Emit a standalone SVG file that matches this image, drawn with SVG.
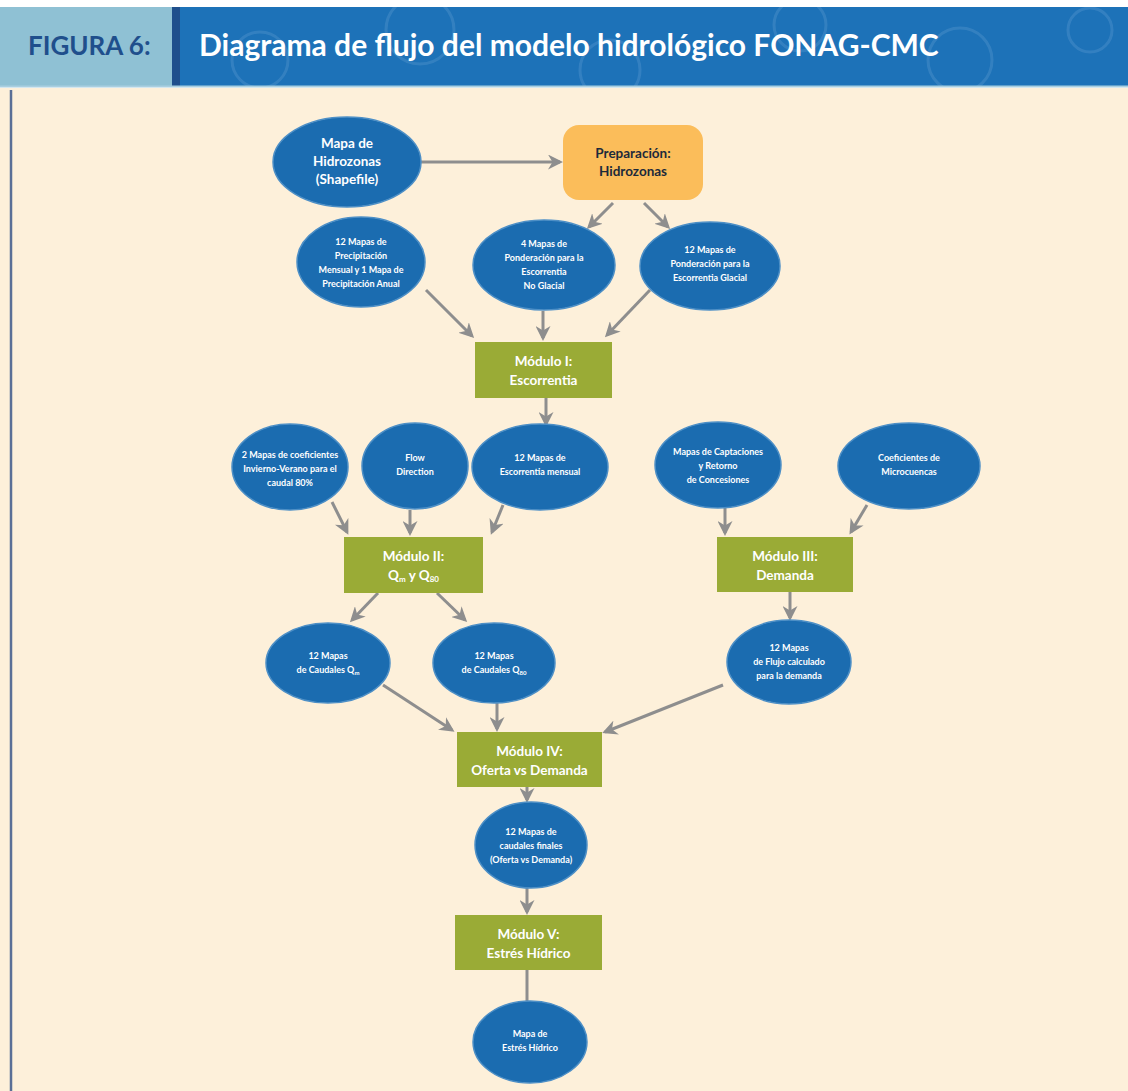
<svg xmlns="http://www.w3.org/2000/svg" width="1128" height="1091" viewBox="0 0 1128 1091">
<style>
.ell{fill:#1b6cb0;stroke:#4d8fc6;stroke-width:1.5}
.mod{fill:#9aab36}
.t{font-family:Lato,"Open Sans","Liberation Sans",sans-serif;font-weight:bold;fill:#ffffff;text-anchor:middle}
.s{font-size:9px}
.m{font-size:13.5px}
.c{stroke:#8e8e8e;stroke-width:3;fill:none;marker-end:url(#ah)}
</style>
<defs>
<marker id="ah" viewBox="0 0 10 10" refX="8" refY="5" markerWidth="5" markerHeight="5" orient="auto" markerUnits="strokeWidth">
<path d="M0,0 L10,5 L0,10 L3,5 z" fill="#8e8e8e"/>
</marker>
<clipPath id="band"><rect x="180" y="7" width="948" height="79"/></clipPath>
</defs>
<rect width="1128" height="1091" fill="#ffffff"/>
<rect x="0" y="88" width="1128" height="1003" fill="#fdf0da"/>
<line x1="11" y1="90" x2="11" y2="1091" stroke="#5a6f96" stroke-width="2.5"/>
<g id="header">
<rect x="0" y="7" width="172" height="79" fill="#8fc1d4"/>
<rect x="172" y="7" width="956" height="79" fill="#1d72b8"/>
<g fill="none" stroke="#4f93cb" stroke-width="3" opacity="0.45" clip-path="url(#band)">
<circle cx="260" cy="60" r="28"/>
<circle cx="420" cy="30" r="34"/>
<circle cx="610" cy="70" r="30"/>
<circle cx="800" cy="25" r="26"/>
<circle cx="960" cy="60" r="32"/>
<circle cx="1090" cy="30" r="22"/>
</g>
<rect x="172" y="7" width="8" height="79" fill="#1f4f8c"/>
<line x1="0" y1="86.5" x2="1128" y2="86.5" stroke="#a9cfe0" stroke-width="2"/>
<text x="28" y="55" font-family="Lato,'Open Sans','Liberation Sans',sans-serif" font-weight="bold" font-size="26" fill="#1f4f8c">FIGURA 6:</text>
<text x="199" y="56" font-family="Lato,'Open Sans','Liberation Sans',sans-serif" font-weight="bold" font-size="30" fill="#ffffff">Diagrama de flujo del modelo hidrológico FONAG-CMC</text>
</g>
<g id="connectors">
<line class="c" x1="421" y1="162" x2="560" y2="162"/>
<line class="c" x1="613" y1="203" x2="589" y2="227"/>
<line class="c" x1="644" y1="203" x2="668" y2="227"/>
<line class="c" x1="426" y1="290" x2="472" y2="336"/>
<line class="c" x1="543" y1="311" x2="543" y2="338"/>
<line class="c" x1="650" y1="290" x2="607" y2="335"/>
<line class="c" x1="546" y1="398" x2="546" y2="424"/>
<line class="c" x1="332" y1="502" x2="347" y2="532"/>
<line class="c" x1="410" y1="510" x2="410" y2="533"/>
<line class="c" x1="503" y1="505" x2="492" y2="532"/>
<line class="c" x1="725" y1="508" x2="725" y2="533"/>
<line class="c" x1="867" y1="505" x2="851" y2="532"/>
<line class="c" x1="378" y1="593" x2="352" y2="620"/>
<line class="c" x1="437" y1="593" x2="465" y2="620"/>
<line class="c" x1="790" y1="592" x2="790" y2="618"/>
<line class="c" x1="383" y1="685" x2="452" y2="730"/>
<line class="c" x1="497" y1="703" x2="497" y2="729"/>
<line class="c" x1="723" y1="685" x2="605" y2="732"/>
<line class="c" x1="527" y1="787" x2="527" y2="800"/>
<line class="c" x1="527" y1="887" x2="527" y2="912"/>
<line x1="527" y1="970" x2="527" y2="1002" stroke="#8e8e8e" stroke-width="3"/>
</g>
<g id="n_hidrozonas">
<ellipse class="ell" cx="347" cy="162" rx="74" ry="45"/>
<text class="t m" x="347" y="148">Mapa de</text>
<text class="t m" x="347" y="166">Hidrozonas</text>
<text class="t m" x="347" y="184">(Shapefile)</text>
</g>
<g id="n_preparacion">
<rect x="563" y="125" width="140" height="75" rx="16" fill="#fbbd5a"/>
<text class="t m" x="633" y="158" style="fill:#1d2a3a">Preparación:</text>
<text class="t m" x="633" y="176" style="fill:#1d2a3a">Hidrozonas</text>
</g>
<g id="n_precip">
<ellipse class="ell" cx="361" cy="262" rx="64" ry="45"/>
<text class="t s" x="361" y="245">12 Mapas de</text>
<text class="t s" x="361" y="259">Precipitación</text>
<text class="t s" x="361" y="273">Mensual y 1 Mapa de</text>
<text class="t s" x="361" y="287">Precipitación Anual</text>
</g>
<g id="n_noglacial">
<ellipse class="ell" cx="544" cy="265" rx="71" ry="45"/>
<text class="t s" x="544" y="247">4 Mapas de</text>
<text class="t s" x="544" y="261">Ponderación para la</text>
<text class="t s" x="544" y="275">Escorrentia</text>
<text class="t s" x="544" y="289">No Glacial</text>
</g>
<g id="n_glacial">
<ellipse class="ell" cx="710" cy="266" rx="70" ry="44"/>
<text class="t s" x="710" y="253">12 Mapas de</text>
<text class="t s" x="710" y="267">Ponderación para la</text>
<text class="t s" x="710" y="281">Escorrentia Glacial</text>
</g>
<g id="n_modulo1">
<rect class="mod" x="475" y="342" width="137" height="56"/>
<text class="t m" x="543.5" y="366">Módulo I:</text>
<text class="t m" x="543.5" y="385">Escorrentia</text>
</g>
<g id="n_coef">
<ellipse class="ell" cx="290" cy="467" rx="58" ry="43"/>
<text class="t s" x="290" y="458">2 Mapas de coeficientes</text>
<text class="t s" x="290" y="472">Invierno-Verano para el</text>
<text class="t s" x="290" y="486">caudal 80%</text>
</g>
<g id="n_flow">
<ellipse class="ell" cx="415" cy="466" rx="53" ry="43"/>
<text class="t s" x="415" y="461">Flow</text>
<text class="t s" x="415" y="475">Direction</text>
</g>
<g id="n_escmensual">
<ellipse class="ell" cx="540" cy="467" rx="68" ry="43"/>
<text class="t s" x="540" y="461">12 Mapas de</text>
<text class="t s" x="540" y="475">Escorrentia mensual</text>
</g>
<g id="n_captaciones">
<ellipse class="ell" cx="718" cy="465" rx="63" ry="43"/>
<text class="t s" x="718" y="455">Mapas de Captaciones</text>
<text class="t s" x="718" y="469">y Retorno</text>
<text class="t s" x="718" y="483">de Concesiones</text>
</g>
<g id="n_microcuencas">
<ellipse class="ell" cx="909" cy="466" rx="71" ry="43"/>
<text class="t s" x="909" y="461">Coeficientes de</text>
<text class="t s" x="909" y="475">Microcuencas</text>
</g>
<g id="n_modulo2">
<rect class="mod" x="344" y="537" width="139" height="56"/>
<text class="t m" x="413.5" y="561">Módulo II:</text>
<text class="t m" x="413.5" y="580">Q<tspan font-size="8" dy="2">m</tspan><tspan dy="-2"> y Q</tspan><tspan font-size="8" dy="2">80</tspan></text>
</g>
<g id="n_modulo3">
<rect class="mod" x="717" y="537" width="136" height="55"/>
<text class="t m" x="785" y="561">Módulo III:</text>
<text class="t m" x="785" y="580">Demanda</text>
</g>
<g id="n_qm">
<ellipse class="ell" cx="328" cy="663" rx="62" ry="40"/>
<text class="t s" x="328" y="659">12 Mapas</text>
<text class="t s" x="328" y="673">de Caudales Q<tspan font-size="6" dy="1.5">m</tspan></text>
</g>
<g id="n_q80">
<ellipse class="ell" cx="494" cy="663" rx="61" ry="40"/>
<text class="t s" x="494" y="659">12 Mapas</text>
<text class="t s" x="494" y="673">de Caudales Q<tspan font-size="6" dy="1.5">80</tspan></text>
</g>
<g id="n_flujo">
<ellipse class="ell" cx="789" cy="662" rx="62" ry="42"/>
<text class="t s" x="789" y="651">12 Mapas</text>
<text class="t s" x="789" y="665">de Flujo calculado</text>
<text class="t s" x="789" y="679">para la demanda</text>
</g>
<g id="n_modulo4">
<rect class="mod" x="457" y="732" width="145" height="55"/>
<text class="t m" x="529.5" y="756">Módulo IV:</text>
<text class="t m" x="529.5" y="775">Oferta vs Demanda</text>
</g>
<g id="n_finales">
<ellipse class="ell" cx="531" cy="845" rx="56" ry="43"/>
<text class="t s" x="531" y="835">12 Mapas de</text>
<text class="t s" x="531" y="849">caudales finales</text>
<text class="t s" x="531" y="863">(Oferta vs Demanda)</text>
</g>
<g id="n_modulo5">
<rect class="mod" x="455" y="915" width="147" height="55"/>
<text class="t m" x="528.5" y="939">Módulo V:</text>
<text class="t m" x="528.5" y="958">Estrés Hídrico</text>
</g>
<g id="n_estres">
<ellipse class="ell" cx="530" cy="1042" rx="57" ry="41"/>
<text class="t s" x="530" y="1037">Mapa de</text>
<text class="t s" x="530" y="1051">Estrés Hídrico</text>
</g>
</svg>
